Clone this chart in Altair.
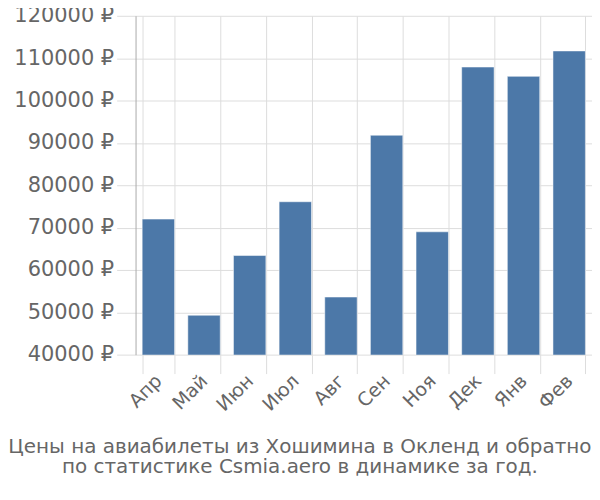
import altair as alt
import pandas as pd

months = ["Апр", "Май", "Июн", "Июл", "Авг", "Сен", "Ноя", "Дек", "Янв", "Фев"]
prices = [72000, 49300, 63400, 76100, 53600, 91800, 69000, 107900, 105700, 111700]

df = pd.DataFrame({"month": months, "price": prices})

FONT = "DejaVu Sans"

chart = alt.Chart(df).mark_bar(
    color="#4c78a8", stroke="#ffffff", strokeOpacity=0.5, strokeWidth=1, clip=True
).encode(
    x=alt.X("month:N", sort=months, title=None,
            scale=alt.Scale(paddingInner=0.29, paddingOuter=0.145),
            axis=alt.Axis(labelAngle=-45, labelAlign="right", labelBaseline="middle",
                          labelFontSize=19, labelColor="#666666", labelFont=FONT,
                          tickBand="extent", tickSize=19, tickColor="#dddddd",
                          grid=True, gridColor="#dddddd", domain=False, labelPadding=4)),
    y=alt.Y("price:Q", title=None,
            scale=alt.Scale(domain=[40000, 120000], nice=False, zero=False),
            axis=alt.Axis(values=list(range(40000, 120001, 10000)),
                          labelExpr="format(datum.value, 'd') + ' ₽'",
                          labelFontSize=21, labelColor="#666666", labelFont=FONT,
                          tickSize=19, tickColor="#dddddd", gridColor="#dddddd",
                          domainColor="#aaaaaa", labelPadding=3)),
).properties(
    width=458, height=340,
    title=alt.TitleParams(
        text=["Цены на авиабилеты из Хошимина в Окленд и обратно",
              "по статистике Csmia.aero в динамике за год."],
        orient="bottom", anchor="middle", frame="bounds", dx=-3,
        fontSize=20, fontWeight="normal", color="#666666", font=FONT,
        lineHeight=21, offset=22),
    autosize=alt.AutoSizeParams(type="none"),
    padding={"left": 128, "top": 7, "right": 0, "bottom": 134},
).configure_view(stroke=None)

chart.save("out.html", embed_options={"renderer": "svg", "actions": False})
